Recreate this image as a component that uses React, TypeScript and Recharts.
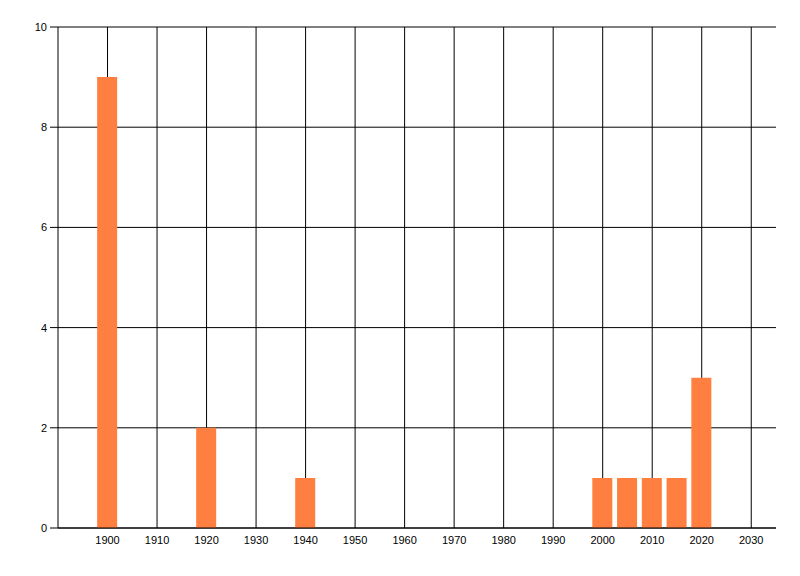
import React from "react";
import { BarChart, Bar, XAxis, YAxis, CartesianGrid } from "recharts";

const years = [1900, 1920, 1940, 2000, 2005, 2010, 2015, 2020];
const counts = [9, 2, 1, 1, 1, 1, 1, 3];
const xTicks = [1900, 1910, 1920, 1930, 1940, 1950, 1960, 1970, 1980, 1990, 2000, 2010, 2020, 2030];
const yTicks = [0, 2, 4, 6, 8, 10];

const data = years.map((y, i) => ({ year: y, count: counts[i] }));

const font = { fontFamily: "Liberation Sans, Arial, sans-serif", fontSize: 11, fill: "#000" };

export default function App() {
  return (
    <div style={{ width: 792, height: 560 }}>
      <BarChart
        width={792}
        height={560}
        data={data}
        margin={{ top: 19, right: 24, bottom: 10, left: 0 }}
      >
        <CartesianGrid stroke="#000" strokeWidth={1} syncWithTicks />
        <XAxis
          dataKey="year"
          type="number"
          domain={[1890, 2035]}
          ticks={xTicks}
          allowDataOverflow
          interval={0}
          tickLine={false}
          tickSize={6}
          tickMargin={2}
          height={30}
          axisLine={{ stroke: "#000" }}
          tick={font}
        />
        <YAxis
          type="number"
          domain={[0, 10]}
          ticks={yTicks}
          width={50}
          interval={0}
          tickSize={8}
          tickMargin={3}
          axisLine={{ stroke: "#000" }}
          tickLine={{ stroke: "#000" }}
          tick={font}
        />
        <Bar dataKey="count" fill="#FF7F40" barSize={20} isAnimationActive={false} />
      </BarChart>
    </div>
  );
}
